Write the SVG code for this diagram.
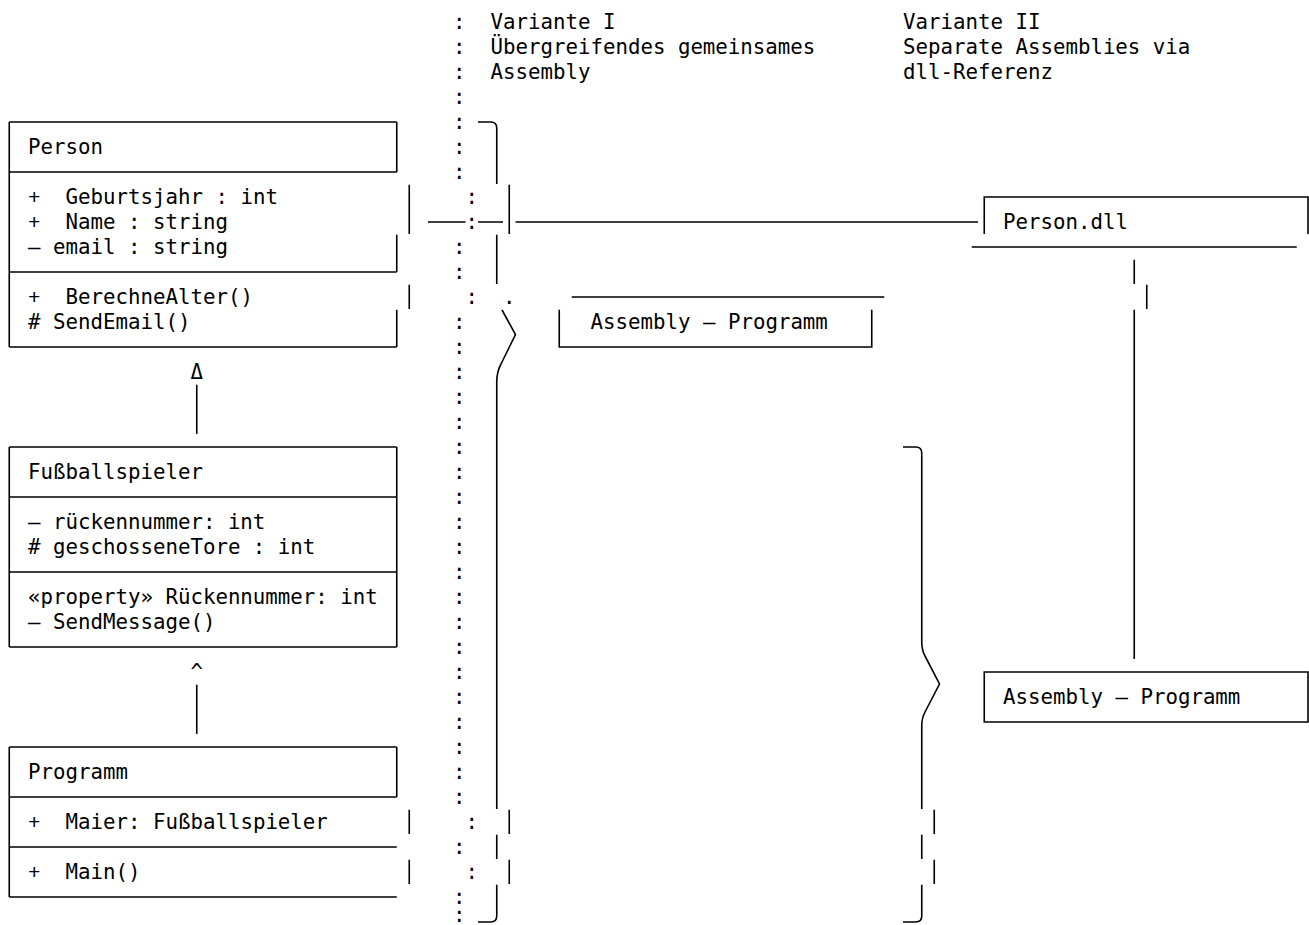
<svg xmlns="http://www.w3.org/2000/svg" width="1309" height="925" viewBox="0 0 1309 925">
<style>
text{font-family:"DejaVu Sans Mono","Liberation Mono",monospace;font-size:20.76px;fill:#000}
.ln{fill:none;stroke:#000;stroke-width:1.6}
.plus{font-family:"Liberation Mono","DejaVu Sans Mono",monospace;font-size:20.76px}
</style>
<rect width="1309" height="925" fill="#fff"/>
<g id="headers">
<text x="490.5" y="29">Variante I</text>
<text x="490.5" y="54">Übergreifendes gemeinsames</text>
<text x="490.5" y="79">Assembly</text>
<text x="903" y="29">Variante II</text>
<text x="903" y="54">Separate Assemblies via</text>
<text x="903" y="79">dll-Referenz</text>
</g>
<g id="divider">
<text x="453" y="29">:</text><text x="453" y="54">:</text><text x="453" y="79">:</text><text x="453" y="104">:</text><text x="453" y="129">:</text><text x="453" y="154">:</text><text x="453" y="179">:</text>
<text x="465.5" y="204">:</text><text x="465.5" y="229">:</text>
<text x="453" y="254">:</text><text x="453" y="279">:</text>
<text x="465.5" y="304">:</text>
<text x="453" y="329">:</text><text x="453" y="354">:</text><text x="453" y="379">:</text><text x="453" y="404">:</text><text x="453" y="429">:</text><text x="453" y="454">:</text><text x="453" y="479">:</text><text x="453" y="504">:</text><text x="453" y="529">:</text><text x="453" y="554">:</text><text x="453" y="579">:</text><text x="453" y="604">:</text><text x="453" y="629">:</text><text x="453" y="654">:</text><text x="453" y="679">:</text><text x="453" y="704">:</text><text x="453" y="729">:</text><text x="453" y="754">:</text><text x="453" y="779">:</text><text x="453" y="804">:</text>
<text x="465.5" y="829">:</text>
<text x="453" y="854">:</text>
<text x="465.5" y="879">:</text>
<text x="453" y="904">:</text><text x="453" y="922">:</text>
</g>
<g id="person">
<path class="ln" d="M9.25 122H396.75M9.25 172H396.75M9.25 272H396.75M9.25 347H396.75M9.25 122V347M396.75 122V172M409.25 184.7V233.9M396.75 234.7V272M409.25 284.7V308.9M396.75 309.7V347"/>
<text x="28" y="154">Person</text>
<text class="plus" x="28" y="204">+</text><text x="65.5" y="204">Geburtsjahr : int</text>
<text class="plus" x="28" y="229">+</text><text x="65.5" y="229">Name : string</text>
<text x="28" y="254">— email : string</text>
<text class="plus" x="28" y="304">+</text><text x="65.5" y="304">BerechneAlter()</text>
<text x="28" y="329"># SendEmail()</text>
</g>
<g id="fussballspieler">
<path class="ln" d="M9.25 447H396.75M9.25 497H396.75M9.25 572H396.75M9.25 647H396.75M9.25 447V647M396.75 447V647"/>
<text x="28" y="479">Fußballspieler</text>
<text x="28" y="529">— rückennummer: int</text>
<text x="28" y="554"># geschosseneTore : int</text>
<text x="28" y="604">«property» Rückennummer: int</text>
<text x="28" y="629">— SendMessage()</text>
</g>
<g id="programm">
<path class="ln" d="M9.25 747H396.75M9.25 797H396.75M9.25 847H396.75M9.25 897H396.75M9.25 747V897M396.75 747V797M409.25 809.7V833.9M409.25 859.7V883.9"/>
<text x="28" y="779">Programm</text>
<text class="plus" x="28" y="829">+</text><text x="65.5" y="829">Maier: Fußballspieler</text>
<text class="plus" x="28" y="879">+</text><text x="65.5" y="879">Main()</text>
</g>
<g id="assembly1">
<path class="ln" d="M571.75 297H884.25M559.25 309.7V347H871.75V309.7"/>
<text x="590.5" y="329">Assembly — Programm</text>
</g>
<g id="persondll">
<path class="ln" d="M984.25 233.9V197H1308V233.9M971.75 247H1296.75"/>
<text x="1003" y="229">Person.dll</text>
</g>
<g id="assembly2">
<path class="ln" d="M984.25 672H1308V722H984.25Z"/>
<text x="1003" y="704">Assembly — Programm</text>
</g>
<g id="braces">
<path class="ln" d="M478 122H490.75Q496.75 122 496.75 128V183.9M509.25 184.7V233.9M496.75 234.7V283.9M502 310L515.5 334.5L501 364Q496.75 372 496.75 382V808.9M509.25 809.7V833.9M496.75 834.7V858.9M509.25 859.7V883.9M496.75 884.7V916Q496.75 922 490.75 922H478"/>
<text x="503" y="304">.</text>
<path class="ln" d="M903 447H915.75Q921.75 447 921.75 453V642Q921.75 650 925 656L939.5 684L925 712Q921.75 718 921.75 726V808.9M934.25 809.7V833.9M921.75 834.7V858.9M934.25 859.7V883.9M921.75 884.7V916Q921.75 922 915.75 922H903"/>
</g>
<g id="connectors">
<text x="190.5" y="379">Δ</text>
<path class="ln" d="M196.75 384.7V433.9"/>
<text x="190.5" y="679">^</text>
<path class="ln" d="M196.75 684.7V733.9"/>
<path class="ln" d="M428 222H465.5M478 222H503M515.5 222H978"/>
<path class="ln" d="M1134.25 259.7V283.9M1146.75 284.7V308.9M1134.25 309.7V658.9"/>
</g>
</svg>
